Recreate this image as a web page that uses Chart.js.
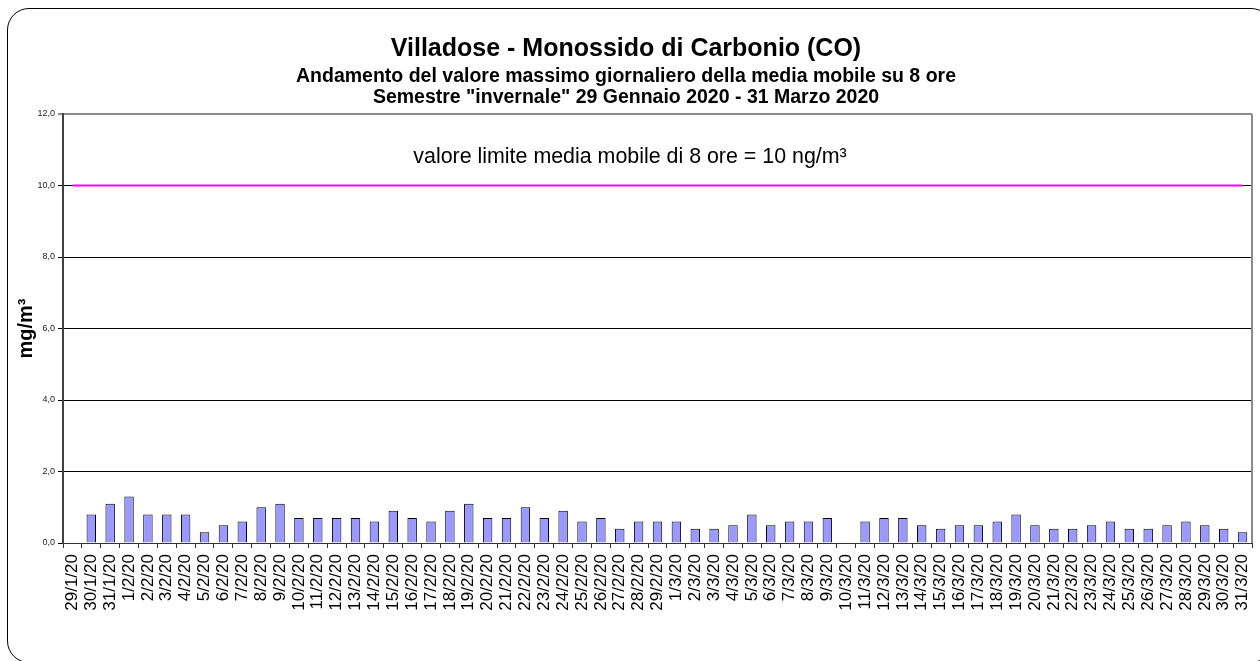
<!DOCTYPE html>
<html>
<head>
<meta charset="utf-8">
<script src="https://cdn.jsdelivr.net/npm/chart.js@4/dist/chart.umd.min.js"></script>
<style>
  html, body { margin: 0; padding: 0; background: #fff; overflow: hidden; }
  #wrap { position: relative; width: 1260px; height: 661px; overflow: hidden; }
  #frame { position: absolute; left: 7px; top: 8px; width: 1266px; height: 655px;
           border: 1px solid #000; border-radius: 22px; box-sizing: border-box; }
  canvas { position: absolute; left: 0; top: 0; }
</style>
</head>
<body>
<div id="wrap">
  <div id="frame"></div>
  <canvas id="myChart" width="1260" height="661"></canvas>
</div>
<script>
var giorni = [
  "29/1/20", "30/1/20", "31/1/20",
  "1/2/20", "2/2/20", "3/2/20", "4/2/20", "5/2/20", "6/2/20", "7/2/20", "8/2/20", "9/2/20", "10/2/20",
  "11/2/20", "12/2/20", "13/2/20", "14/2/20", "15/2/20", "16/2/20", "17/2/20", "18/2/20", "19/2/20", "20/2/20",
  "21/2/20", "22/2/20", "23/2/20", "24/2/20", "25/2/20", "26/2/20", "27/2/20", "28/2/20", "29/2/20",
  "1/3/20", "2/3/20", "3/3/20", "4/3/20", "5/3/20", "6/3/20", "7/3/20", "8/3/20", "9/3/20", "10/3/20",
  "11/3/20", "12/3/20", "13/3/20", "14/3/20", "15/3/20", "16/3/20", "17/3/20", "18/3/20", "19/3/20", "20/3/20",
  "21/3/20", "22/3/20", "23/3/20", "24/3/20", "25/3/20", "26/3/20", "27/3/20", "28/3/20", "29/3/20", "30/3/20", "31/3/20"
];

// massimo giornaliero media mobile 8 ore (mg/m3)
var coMax8h = [
  null, 0.8, 1.1,
  1.3, 0.8, 0.8, 0.8, 0.3, 0.5, 0.6, 1.0, 1.1, 0.7,
  0.7, 0.7, 0.7, 0.6, 0.9, 0.7, 0.6, 0.9, 1.1, 0.7,
  0.7, 1.0, 0.7, 0.9, 0.6, 0.7, 0.4, 0.6, 0.6,
  0.6, 0.4, 0.4, 0.5, 0.8, 0.5, 0.6, 0.6, 0.7, null,
  0.6, 0.7, 0.7, 0.5, 0.4, 0.5, 0.5, 0.6, 0.8, 0.5,
  0.4, 0.4, 0.5, 0.6, 0.4, 0.4, 0.5, 0.6, 0.5, 0.4, 0.3
];

// valore limite
var limite = [
  10, 10, 10,
  10, 10, 10, 10, 10, 10, 10, 10, 10, 10,
  10, 10, 10, 10, 10, 10, 10, 10, 10, 10,
  10, 10, 10, 10, 10, 10, 10, 10, 10,
  10, 10, 10, 10, 10, 10, 10, 10, 10, 10,
  10, 10, 10, 10, 10, 10, 10, 10, 10, 10,
  10, 10, 10, 10, 10, 10, 10, 10, 10, 10, 10
];

var yTicks = [0, 2, 4, 6, 8, 10, 12];
var noteText = "valore limite media mobile di 8 ore = 10 ng/m\u00b3";

var FONT = "'Liberation Sans', Arial, sans-serif";

// scritta del limite + bordo destro grigio
var extras = {
  id: "extras",
  afterDraw: function (chart) {
    var c = chart.ctx;
    var a = chart.chartArea;
    c.save();
    c.strokeStyle = "#8c8c8c";
    c.lineWidth = 2;
    c.beginPath();
    c.moveTo(a.right, a.top);
    c.lineTo(a.right, a.bottom);
    c.stroke();
    c.fillStyle = "#000";
    c.font = "21.4px " + FONT;
    c.textAlign = "center";
    c.textBaseline = "middle";
    c.fillText(noteText, chart.width / 2, chart.scales.y.getPixelForValue(10.8));
    c.restore();
  }
};

var ctx = document.getElementById("myChart").getContext("2d");
var myChart = new Chart(ctx, {
  type: "bar",
  data: {
    labels: giorni,
    datasets: [
      {
        type: "line",
        label: "limite",
        data: limite,
        borderColor: "#ff00ff",
        borderWidth: 2,
        pointRadius: 0,
        fill: false,
        order: 0
      },
      {
        label: "CO",
        data: coMax8h,
        backgroundColor: "#9999ff",
        borderColor: "#000",
        borderWidth: 1,
        barPercentage: 0.5,
        categoryPercentage: 1.0,
        order: 1
      }
    ]
  },
  options: {
    responsive: false,
    animation: false,
    devicePixelRatio: 1,
    layout: { padding: { left: 0, right: 8, top: 0, bottom: 0 } },
    plugins: {
      legend: { display: false },
      tooltip: { enabled: false },
      title: {
        display: true,
        text: "Villadose - Monossido di Carbonio (CO)",
        color: "#000",
        font: { family: FONT, size: 25, weight: "bold", lineHeight: 1.2 },
        padding: { top: 34, bottom: 0 }
      },
      subtitle: {
        display: true,
        text: [
          "Andamento del valore massimo giornaliero della media mobile su 8 ore",
          "Semestre \"invernale\" 29 Gennaio 2020 - 31 Marzo 2020"
        ],
        color: "#000",
        font: { family: FONT, size: 19.5, weight: "bold", lineHeight: 21 / 19.5 },
        padding: { top: 2.5, bottom: 5.5 }
      }
    },
    scales: {
      x: {
        offset: true,
        grid: {
          offset: true,
          drawOnChartArea: false,
          drawTicks: true,
          tickLength: 5,
          color: "#333"
        },
        border: { color: "#333", width: 1 },
        ticks: {
          autoSkip: false,
          maxRotation: 90,
          minRotation: 90,
          padding: 6,
          color: "#000",
          font: { family: FONT, size: 17 }
        },
        afterFit: function (scale) {
          scale.height = 118;
          scale.paddingLeft = 0;
          scale.paddingRight = 0;
        }
      },
      y: {
        min: 0,
        max: 12,
        afterBuildTicks: function (scale) {
          scale.ticks = yTicks.map(function (v) { return { value: v }; });
        },
        grid: {
          color: function (c) { return c.tick && c.tick.value === 12 ? "#8c8c8c" : "#000"; },
          lineWidth: function (c) { return c.tick && c.tick.value === 12 ? 2 : 1; },
          tickLength: 5
        },
        border: { color: "#404040", width: 2 },
        ticks: {
          padding: 3,
          color: "#222",
          font: { family: FONT, size: 9 },
          callback: function (v) { return v.toFixed(1).replace(".", ","); }
        },
        title: {
          display: true,
          text: "mg/m\u00b3",
          color: "#000",
          font: { family: FONT, size: 20, weight: "bold", lineHeight: 1.2 },
          padding: { top: 14, bottom: 0 }
        },
        afterFit: function (scale) { scale.width = 63; }
      }
    }
  },
  plugins: [extras]
});
</script>
</body>
</html>
